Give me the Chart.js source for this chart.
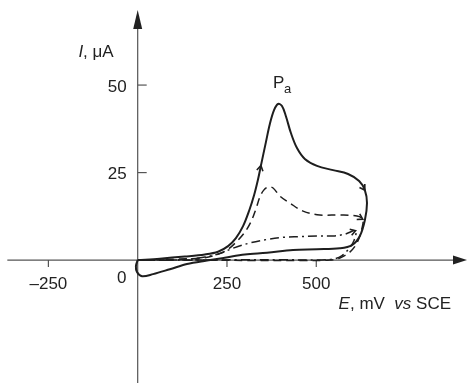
<!DOCTYPE html>
<html>
<head>
<meta charset="utf-8">
<script src="https://cdn.jsdelivr.net/npm/chart.js@4"></script>
<style>
html, body { margin: 0; padding: 0; background: #fff; }
</style>
</head>
<body>
<canvas id="cv" width="467" height="383"></canvas>
<script>
// potential (mV vs SCE) and current (uA), in sweep order
const solidE = [0, 62, 132, 188, 225, 253, 275, 295, 312, 326, 337, 345, 359, 370, 382, 393, 404, 415, 429, 446, 468, 502, 547, 589, 620, 636, 642, 636, 622, 600, 566, 502, 435, 362, 300, 244, 194, 138, 90, 43, 12, -2, -5, 0];
const solidI = [0, 0.4, 1, 1.6, 2.4, 4, 6.3, 9.7, 14.1, 18.6, 23.1, 27, 33.7, 38.9, 42.9, 44.6, 44, 41.1, 36.3, 32, 28.9, 26.9, 25.7, 24.6, 22.6, 20, 16.3, 11.4, 6.9, 4.3, 3.4, 3.1, 2.9, 2.1, 1.6, 0.7, -0.1, -1.1, -2.6, -4, -4.6, -3.4, -1.7, 0];

const dashE = [6, 118, 188, 225, 253, 278, 300, 317, 331, 342, 353, 365, 379, 398, 426, 463, 510, 566, 614, 630, 628, 614, 594, 566, 538, 454, 314, 174, 6];
const dashI = [0, 0.3, 0.7, 1.7, 3.1, 5.4, 8, 10.9, 14.6, 18, 20, 20.9, 20.6, 18.3, 16.3, 14, 12.9, 12.9, 12.6, 11.7, 9.1, 4.9, 2.3, 0.6, 0, -0.1, -0.1, 0, 0];

const dotE = [6, 118, 188, 230, 267, 314, 362, 407, 454, 502, 547, 580, 610, 606, 591, 572, 548, 510, 398, 286, 174, 6];
const dotI = [0, 0.1, 0.9, 1.9, 3.4, 4.9, 5.9, 6.5, 6.7, 6.9, 6.9, 7.4, 8.4, 5.7, 3.2, 1.3, 0.3, 0.05, 0.1, 0.1, 0, 0];

const xTicks = [-250, 250, 500];
const xTickLabels = ['\u2013250', '250', '500'];
const yTicks = [25, 50];
const yTickLabels = ['25', '50'];

// arrow heads: dataset index, point index
const arrows = [[0, 11], [0, 25], [1, 19], [2, 12]];

function pts(xs, ys) {
  return xs.map((x, i) => ({ x: x, y: ys[i] }));
}

const FONT = '"Liberation Sans", Arial, sans-serif';
const INK = '#1e1e1e';
const AXIS = '#555';

const axesPlugin = {
  id: 'axes',
  beforeDatasetsDraw(chart) {
    const c = chart.ctx;
    const sx = chart.scales.x, sy = chart.scales.y;
    const ox = sx.getPixelForValue(0), oy = sy.getPixelForValue(0);
    c.save();
    c.strokeStyle = AXIS;
    c.fillStyle = '#222';
    c.lineWidth = 1.2;
    // x axis
    c.beginPath();
    c.moveTo(sx.getPixelForValue(-365), oy);
    c.lineTo(chart.width - 8, oy);
    c.stroke();
    c.beginPath();
    c.moveTo(chart.width, oy);
    c.lineTo(chart.width - 14, oy - 4.5);
    c.lineTo(chart.width - 14, oy + 4.5);
    c.closePath();
    c.fill();
    // y axis
    c.beginPath();
    c.moveTo(ox, chart.height);
    c.lineTo(ox, 20);
    c.stroke();
    c.beginPath();
    c.moveTo(ox, 10);
    c.lineTo(ox - 4.5, 29);
    c.lineTo(ox + 4.5, 29);
    c.closePath();
    c.fill();

    c.fillStyle = '#222';
    c.font = '17px ' + FONT;
    c.textAlign = 'center';
    c.textBaseline = 'alphabetic';
    xTicks.forEach((v, i) => {
      const px = sx.getPixelForValue(v);
      c.beginPath();
      c.moveTo(px, oy);
      c.lineTo(px, oy + 7);
      c.stroke();
      c.fillText(xTickLabels[i], px, oy + 29);
    });
    c.textAlign = 'right';
    yTicks.forEach((v, i) => {
      const py = sy.getPixelForValue(v);
      c.beginPath();
      c.moveTo(ox, py);
      c.lineTo(ox + 9, py);
      c.stroke();
      c.fillText(yTickLabels[i], ox - 11, py + 6.5);
    });
    c.textAlign = 'center';
    c.fillText('0', ox - 16, oy + 23);

    // axis titles, mixed italic / upright pieces
    function pieces(parts, xRight, y) {
      let w = 0;
      parts.forEach(p => { c.font = (p[1] ? 'italic ' : '') + '17px ' + FONT; w += c.measureText(p[0]).width; });
      let x = xRight - w;
      c.textAlign = 'left';
      parts.forEach(p => {
        c.font = (p[1] ? 'italic ' : '') + '17px ' + FONT;
        c.fillText(p[0], x, y);
        x += c.measureText(p[0]).width;
      });
    }
    pieces([['I', true], [', \u03bcA', false]], ox - 24, 57);
    pieces([['E', true], [', mV  ', false], ['vs', true], [' SCE', false]], chart.width - 16, oy + 49);

    // peak label
    const pk = solidI.indexOf(Math.max(...solidI));
    const pkx = sx.getPixelForValue(solidE[pk]), pky = sy.getPixelForValue(solidI[pk]);
    c.font = '17px ' + FONT;
    c.textAlign = 'left';
    c.fillText('P', pkx - 5, pky - 16);
    c.font = '13px ' + FONT;
    c.fillText('a', pkx + 6, pky - 11);
    c.restore();
  },
  afterDatasetsDraw(chart) {
    const c = chart.ctx;
    c.save();
    c.strokeStyle = INK;
    c.lineWidth = 1.6;
    c.setLineDash([]);
    arrows.forEach(a => {
      const meta = chart.getDatasetMeta(a[0]);
      const p = meta.data[a[1]], q = meta.data[a[1] - 1];
      const ang = Math.atan2(p.y - q.y, p.x - q.x);
      const L = 6, spread = 0.55;
      c.beginPath();
      c.moveTo(p.x - L * Math.cos(ang - spread), p.y - L * Math.sin(ang - spread));
      c.lineTo(p.x, p.y);
      c.lineTo(p.x - L * Math.cos(ang + spread), p.y - L * Math.sin(ang + spread));
      c.stroke();
    });
    c.restore();
  }
};

new Chart(document.getElementById('cv'), {
  type: 'scatter',
  data: {
    datasets: [
      { data: pts(solidE, solidI), borderColor: INK, borderWidth: 2, showLine: true, pointRadius: 0, tension: 0.35 },
      { data: pts(dashE, dashI), borderColor: INK, borderWidth: 1.5, borderDash: [8, 5], showLine: true, pointRadius: 0, tension: 0.35 },
      { data: pts(dotE, dotI), borderColor: INK, borderWidth: 1.5, borderDash: [9, 4, 2, 4], showLine: true, pointRadius: 0, tension: 0.35 }
    ]
  },
  options: {
    responsive: false,
    animation: false,
    layout: { padding: 0 },
    plugins: { legend: { display: false }, tooltip: { enabled: false } },
    scales: {
      x: { type: 'linear', display: false, min: -385.5, max: 922 },
      y: { type: 'linear', display: false, min: -35.1, max: 74.3 }
    }
  },
  plugins: [axesPlugin]
});
</script>
</body>
</html>
